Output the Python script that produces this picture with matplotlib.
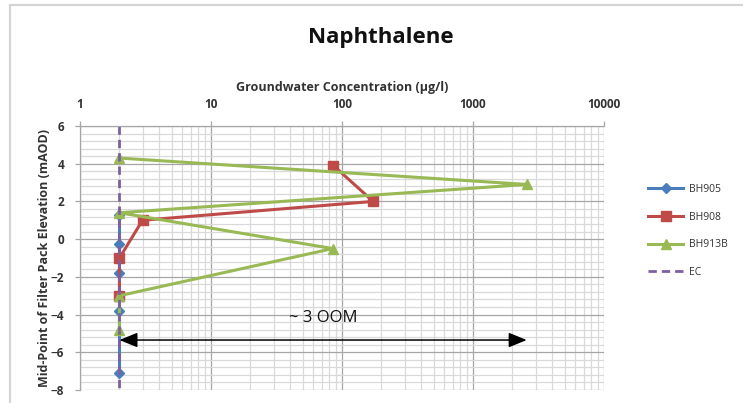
import matplotlib
matplotlib.use("Agg")
import matplotlib.pyplot as plt
from matplotlib.patches import Rectangle
from matplotlib.ticker import LogLocator, MultipleLocator, FixedLocator

plt.rcParams['font.family'] = ['Open Sans', 'DejaVu Sans']

# Groundwater concentration (ug/l) vs. mid-point of filter pack elevation (mAOD)
bh905_conc = [2, 2, 2, 2, 2, 2, 2]
bh905_elev = [1.3, -0.25, -1.0, -1.8, -3.0, -3.8, -7.1]

bh908_conc = [86, 173, 3.0, 2, 2]
bh908_elev = [3.9, 2.0, 1.0, -1.0, -3.0]

bh913b_conc = [2, 2570, 2, 85, 2, 2]
bh913b_elev = [4.3, 2.9, 1.4, -0.5, -3.0, -4.8]

ec_conc = [2, 2]
ec_elev = [6, -8]

x_ticks = [1, 10, 100, 1000, 10000]
x_tick_labels = ["1", "10", "100", "1000", "10000"]
y_ticks = [6, 4, 2, 0, -2, -4, -6, -8]

oom_start, oom_end, oom_elev = 2, 2570, -5.35
oom_label = "~ 3 OOM"

W, H = 743, 403
fig = plt.figure(figsize=(W / 100, H / 100), dpi=100)
fig.patch.set_facecolor("white")

# chart-area border
fig.add_artist(Rectangle((10 / W, -0.2), 2.0, 1.2 - 5 / H, transform=fig.transFigure,
                         fill=False, edgecolor="#D4D4D4", linewidth=1.6))

ax = fig.add_axes([80 / W, 1 - 390 / H, 524 / W, 264 / H])
ax.set_xscale("log")
ax.set_xlim(1, 10000)
ax.set_ylim(-8, 6)

ax.xaxis.set_major_locator(FixedLocator(x_ticks))
ax.xaxis.set_minor_locator(LogLocator(base=10, subs=range(2, 10), numticks=20))
ax.set_xticks(x_ticks)
ax.set_xticklabels(x_tick_labels)
ax.xaxis.set_minor_formatter(plt.NullFormatter())
ax.yaxis.set_major_locator(FixedLocator(y_ticks))
ax.yaxis.set_minor_locator(MultipleLocator(0.4))

ax.xaxis.tick_top()
ax.xaxis.set_label_position("top")

ax.grid(which="major", color="#A6A6A6", linewidth=0.9)
ax.grid(which="minor", color="#D9D9D9", linewidth=0.9)
ax.set_axisbelow(True)

for s in ["right", "bottom"]:
    ax.spines[s].set_visible(False)
for s in ["left", "top"]:
    ax.spines[s].set_color("#A6A6A6")
    ax.spines[s].set_linewidth(0.9)

ax.tick_params(axis="both", which="major", labelsize=8.5, colors="#A6A6A6",
               labelcolor="#333333", length=3.5, width=0.9)
ax.tick_params(axis="both", which="minor", length=0)
ax.tick_params(axis="x", pad=7)
ax.tick_params(axis="y", pad=8)
for lab in ax.get_xticklabels() + ax.get_yticklabels():
    lab.set_fontweight("bold")

ax.set_xlabel("Groundwater Concentration (\u00b5g/l)", fontsize=9, fontweight="bold",
              color="#333333", labelpad=5)
ax.set_ylabel("Mid-Point of Filter Pack Elevation (mAOD)", fontsize=9, fontweight="bold",
              color="#333333", labelpad=0)

ax.plot(bh905_conc, bh905_elev, color="#4A7EBB", linewidth=2.2, marker="D",
        markersize=5, label="BH905", clip_on=False)
ax.plot(bh908_conc, bh908_elev, color="#BE4B48", linewidth=2.2, marker="s",
        markersize=6.5, label="BH908", clip_on=False)
ax.plot(bh913b_conc, bh913b_elev, color="#98B954", linewidth=2.2, marker="^",
        markersize=7, label="BH913B", clip_on=False)
ax.plot(ec_conc, ec_elev, color="#7D60A0", linewidth=2.0, linestyle=(0, (3, 1.8)),
        label="EC")

ax.annotate("", xy=(oom_end, oom_elev), xytext=(oom_start, oom_elev),
            arrowprops=dict(arrowstyle="<|-|>,head_length=1.1,head_width=0.45",
                            color="black", linewidth=1.1, shrinkA=0, shrinkB=0))
ax.text(72, -4.2, oom_label, fontsize=12, ha="center", va="center", color="#111111")

fig.text(381 / W, 1 - 38 / H, "Naphthalene", fontsize=16, fontweight="bold",
         ha="center", va="center", color="#111111")

leg = ax.legend(loc="center left", bbox_to_anchor=(648 / W, 1 - 231 / H),
                bbox_transform=fig.transFigure, frameon=False, fontsize=7.5,
                handlelength=3.4, handletextpad=0.5, labelspacing=1.6,
                borderpad=0, borderaxespad=0)
for t in leg.get_texts():
    t.set_color("#333333")

fig.savefig("out.png", dpi=100, facecolor="white")
